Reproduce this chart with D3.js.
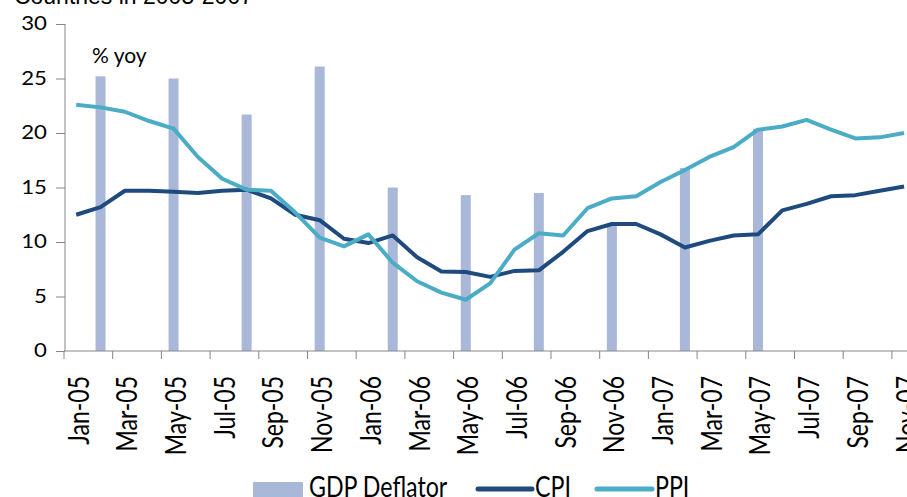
<!DOCTYPE html>
<html>
<head>
<meta charset="utf-8">
<script src="https://cdn.jsdelivr.net/npm/d3@7/dist/d3.min.js"></script>
<style>
  html, body { margin: 0; padding: 0; background: #ffffff; overflow: hidden; }
  svg { display: block; }
  text { font-family: Lato, "Open Sans", sans-serif; fill: #000; }
</style>
</head>
<body>
<svg id="chart" width="907" height="497"></svg>
<script>
// ---- data ----
const months = ["Jan-05","Feb-05","Mar-05","Apr-05","May-05","Jun-05","Jul-05","Aug-05","Sep-05","Oct-05","Nov-05","Dec-05",
                "Jan-06","Feb-06","Mar-06","Apr-06","May-06","Jun-06","Jul-06","Aug-06","Sep-06","Oct-06","Nov-06","Dec-06",
                "Jan-07","Feb-07","Mar-07","Apr-07","May-07","Jun-07","Jul-07","Aug-07","Sep-07","Oct-07","Nov-07"];
const gdpDeflator = [null,25.2,null,null,25.0,null,null,21.7,null,null,26.1,null,
                     null,15.0,null,null,14.3,null,null,14.5,null,null,11.6,null,
                     null,16.8,null,null,20.4,null,null,null,null,null,null];
const cpi = [12.5,13.2,14.7,14.7,14.6,14.5,14.7,14.8,14.0,12.5,12.0,10.3,
             9.9,10.6,8.6,7.3,7.25,6.8,7.35,7.4,9.1,11.0,11.65,11.65,
             10.7,9.5,10.1,10.6,10.7,12.9,13.5,14.2,14.3,14.7,15.1];
const ppi = [22.6,22.35,21.95,21.1,20.4,17.8,15.8,14.8,14.7,12.7,10.4,9.6,
             10.7,8.1,6.4,5.35,4.7,6.2,9.3,10.8,10.6,13.1,14.0,14.2,
             15.5,16.6,17.8,18.7,20.3,20.6,21.2,20.3,19.5,19.6,20.0];
const yTicks = [0,5,10,15,20,25,30];
const seriesNames = ["GDP Deflator","CPI","PPI"];
const unitLabel = "% yoy";
const titleText = "Countries in 2005-2007";

// ---- styles ----
const colBar = "#a9b8d8", colCPI = "#1f4a7e", colPPI = "#4bacc6", colAxis = "#868686";

const svg = d3.select("#chart");
const x = d3.scaleBand().domain(months).range([64, 64 + months.length * 24.35]).padding(0);
const y = d3.scaleLinear().domain([0, 30]).range([351, 24]);

// title (cut off at top, as in the reference)
svg.append("text").attr("x", 253).attr("y", 4).attr("text-anchor", "end")
   .style("font-family", "'Liberation Sans', Arial, sans-serif").style("font-size", "23px")
   .text(titleText);

// bars
svg.append("g").selectAll("rect")
  .data(months.map((m, i) => ({m, v: gdpDeflator[i]})).filter(d => d.v != null))
  .join("rect")
  .attr("x", d => x(d.m) + x.bandwidth() / 2 - 5)
  .attr("width", 10)
  .attr("y", d => y(d.v))
  .attr("height", d => y(0) - y(d.v))
  .attr("fill", colBar);

// lines
const line = d3.line().x((d, i) => x(months[i]) + x.bandwidth() / 2).y(d => y(d));
svg.append("path").datum(cpi).attr("d", line).attr("fill", "none")
   .attr("stroke", colCPI).attr("stroke-width", 4).attr("stroke-linejoin", "round");
svg.append("path").datum(ppi).attr("d", line).attr("fill", "none")
   .attr("stroke", colPPI).attr("stroke-width", 4).attr("stroke-linejoin", "round");

// y axis
const yAxis = d3.axisLeft(y).tickValues(yTicks).tickSize(9).tickPadding(8);
const gy = svg.append("g").attr("transform", "translate(65,0)").call(yAxis);
gy.select(".domain").attr("stroke", colAxis).attr("d", "M0," + y(30) + "V" + y(0));
gy.selectAll(".tick line").attr("stroke", colAxis);
gy.selectAll(".tick text").style("font-family", "Lato, sans-serif").style("font-size", "18.5px")
  .attr("fill", "#000")
  .each(function() {
    const t = d3.select(this);
    const xx = +t.attr("x");
    t.attr("x", null).attr("transform", "translate(" + (xx - 1) + ",0) scale(1.2,1)");
  });

// x axis line & ticks
const gx = svg.append("g");
gx.append("line").attr("x1", 64).attr("x2", x.range()[1]).attr("y1", 351).attr("y2", 351)
  .attr("stroke", colAxis).attr("stroke-width", 1);
gx.selectAll("line.tk").data(months.filter((m, i) => i % 2 === 0)).join("line")
  .attr("class", "tk")
  .attr("x1", d => x(d)).attr("x2", d => x(d))
  .attr("y1", 351).attr("y2", 359).attr("stroke", colAxis);
gx.selectAll("text.lbl").data(months.filter((m, i) => i % 2 === 0)).join("text")
  .attr("class", "lbl")
  .attr("text-anchor", "end")
  .attr("dy", "0.36em")
  .style("font-size", "23px")
  .attr("transform", d => "translate(" + (x(d) + x.bandwidth() / 2 + 2) + ",376) rotate(-90) scale(1,1.27)")
  .text(d => d);

// unit label
svg.append("text").attr("x", 92).attr("y", 63).style("font-size", "21px").text(unitLabel);

// legend
const lg = svg.append("g");
lg.append("rect").attr("x", 253).attr("y", 482).attr("width", 50).attr("height", 20).attr("fill", colBar);
lg.append("line").attr("x1", 478).attr("x2", 532).attr("y1", 489).attr("y2", 489)
  .attr("stroke", colCPI).attr("stroke-width", 5).attr("stroke-linecap", "round");
lg.append("line").attr("x1", 597).attr("x2", 652).attr("y1", 489).attr("y2", 489)
  .attr("stroke", colPPI).attr("stroke-width", 5).attr("stroke-linecap", "round");
const legPos = [309, 535, 655];
seriesNames.forEach((s, i) => {
  lg.append("text").attr("transform", "translate(" + legPos[i] + ",497) scale(0.8,1)")
    .style("font-size", "29px").text(s);
});
</script>
</body>
</html>
